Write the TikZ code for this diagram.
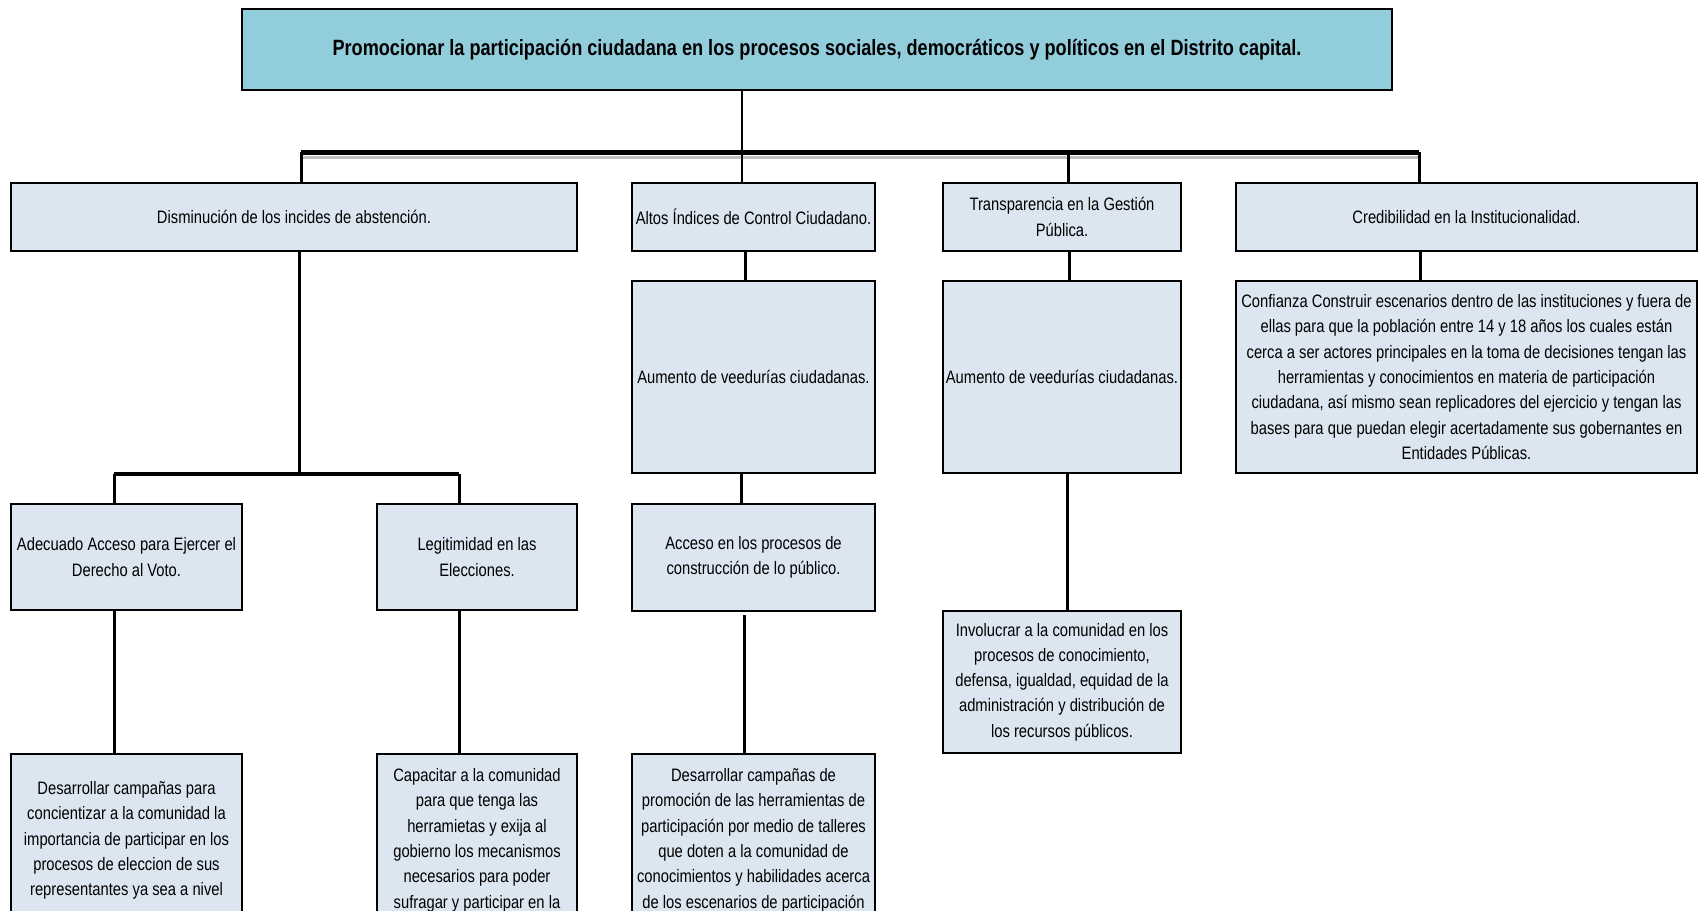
\documentclass[tikz,border=0pt]{standalone}
\usepackage{fontspec}
\setmainfont{Liberation Sans}[FakeStretch=0.82]
\definecolor{topfill}{HTML}{92CDDC}
\definecolor{boxfill}{HTML}{DCE6F1}
\newcommand\bodyfs{\fontsize{18}{25.3}\selectfont}
\newcommand\titlefs{\fontsize{22.1}{26}\selectfont\bfseries}
\tikzset{
  box/.style={draw=black, line width=2.5pt, fill=boxfill, rectangle, inner sep=0pt, outer sep=0pt,
    anchor=north west, align=center, font=\bodyfs},
  titlebox/.style={box, fill=topfill, font=\titlefs},
  txt/.style={inner sep=0pt, outer sep=0pt, align=center, font=\bodyfs, anchor=north},
  link/.style={line width=3pt},
  thinlink/.style={line width=2.5pt},
  barlink/.style={line width=5pt},
  barshadow/.style={line width=3pt, black!25},
  subbar/.style={line width=4pt},
}
\begin{document}
\begin{tikzpicture}[x=1pt, y=-1pt]
\useasboundingbox (0,0) rectangle (1702,910);
\clip (0,0) rectangle (1702,910);
\fill[white] (0,0) rectangle (1702,910);

% top
\node[titlebox, minimum width=1150pt, minimum height=81pt] (top) at (242,9)
  {Promocionar la participación ciudadana en los procesos sociales, democráticos y políticos en el Distrito capital.};

% level 2
\node[box, minimum width=566pt, minimum height=68pt] (a) at (11,183) {Disminución de los incides de abstención.};
\node[box, minimum width=243pt, minimum height=68pt] (b) at (632,183) {Altos Índices de Control Ciudadano.};
\node[box, minimum width=238pt, minimum height=68pt] (c) at (943,183) {Transparencia en la Gestión\\Pública.};
\node[box, minimum width=461pt, minimum height=68pt] (d) at (1236,183) {Credibilidad en la Institucionalidad.};

% level 3
\node[box, minimum width=243pt, minimum height=192pt] (b1) at (632,281) {Aumento de veedurías ciudadanas.};
\node[box, minimum width=238pt, minimum height=192pt] (c1) at (943,281) {Aumento de veedurías ciudadanas.};
\node[box, minimum width=461pt, minimum height=192pt] (d1) at (1236,281)
  {Confianza Construir escenarios dentro de las instituciones y fuera de\\
   ellas para que la población entre 14 y 18 años los cuales están\\
   cerca a ser actores principales en la toma de decisiones tengan las\\
   herramientas y conocimientos en materia de participación\\
   ciudadana, así mismo sean replicadores del ejercicio y tengan las\\
   bases para que puedan elegir acertadamente sus gobernantes en\\
   Entidades Públicas.};

% level 4
\node[box, minimum width=231pt, minimum height=106pt] (a1) at (11,504) {Adecuado Acceso para Ejercer el\\Derecho al Voto.};
\node[box, minimum width=200pt, minimum height=106pt] (a2) at (377,504) {Legitimidad en las\\Elecciones.};
\node[box, minimum width=243pt, minimum height=107pt] (b2) at (632,504) {Acceso en los procesos de\\construcción de lo público.};
\node[box, minimum width=238pt, minimum height=142pt] (c2) at (943,611)
  {Involucrar a la comunidad en los\\procesos de conocimiento,\\defensa, igualdad, equidad de la\\administración y distribución de\\los recursos públicos.};

% level 5 (cut by the page edge)
\node[box, minimum width=231pt, minimum height=220pt] (a1a) at (11,754) {};
\node[box, minimum width=200pt, minimum height=220pt] (a2a) at (377,754) {};
\node[box, minimum width=243pt, minimum height=220pt] (b3) at (632,754) {};
\node[txt] (a1at) at ([yshift=-27.5pt]a1a.north)
  {Desarrollar campañas para\\concientizar a la comunidad la\\importancia de participar en los\\procesos de eleccion de sus\\representantes ya sea a nivel};
\node[txt] (a2at) at ([yshift=-14.5pt]a2a.north)
  {Capacitar a la comunidad\\para que tenga las\\herramietas y exija al\\gobierno los mecanismos\\necesarios para poder\\sufragar y participar en la};
\node[txt] (b3t) at ([yshift=-14.5pt]b3.north)
  {Desarrollar campañas de\\promoción de las herramientas de\\participación por medio de talleres\\que doten a la comunidad de\\conocimientos y habilidades acerca\\de los escenarios de participación};

% connector coordinates
\coordinate (xm) at (742,152);
\coordinate (bl) at (301,152);
\coordinate (bc) at (1068,152);
\coordinate (br) at (1419,152);
\coordinate (xa) at (299,474);
\coordinate (sl) at (114,474);
\coordinate (sr) at (459,474);
\coordinate (xb1) at (745,0);
\coordinate (xb2) at (741,0);
\coordinate (xb3) at (744,0);
\coordinate (xc1) at (1069,0);
\coordinate (xc2) at (1067,0);
\coordinate (xd1) at (1420,0);

% connectors
\draw[barshadow] ([yshift=-5pt]bl) -- ([yshift=-5pt]br);
\draw[thinlink] (top.south -| xm) -- (b.north -| xm);
\draw[barlink] (bl) -- (br);
\draw[link] (bl) -- (a.north -| bl);
\draw[link] (bc) -- (c.north -| bc);
\draw[link] (br) -- (d.north -| br);
\draw[link] (a.south -| xa) -- (xa);
\draw[subbar] (sl) -- (sr);
\draw[link] (sl) -- (a1.north -| sl);
\draw[link] (sr) -- (a2.north -| sr);
\draw[link] (a1.south -| sl) -- (a1a.north -| sl);
\draw[link] (a2.south -| sr) -- (a2a.north -| sr);
\draw[link] (b.south -| xb1) -- (b1.north -| xb1);
\draw[link] (b1.south -| xb2) -- (b2.north -| xb2);
\draw[link] ([yshift=-4pt]b2.south -| xb3) -- (b3.north -| xb3);
\draw[link] (c.south -| xc1) -- (c1.north -| xc1);
\draw[link] (c1.south -| xc2) -- (c2.north -| xc2);
\draw[link] (d.south -| xd1) -- (d1.north -| xd1);
\end{tikzpicture}
\end{document}
